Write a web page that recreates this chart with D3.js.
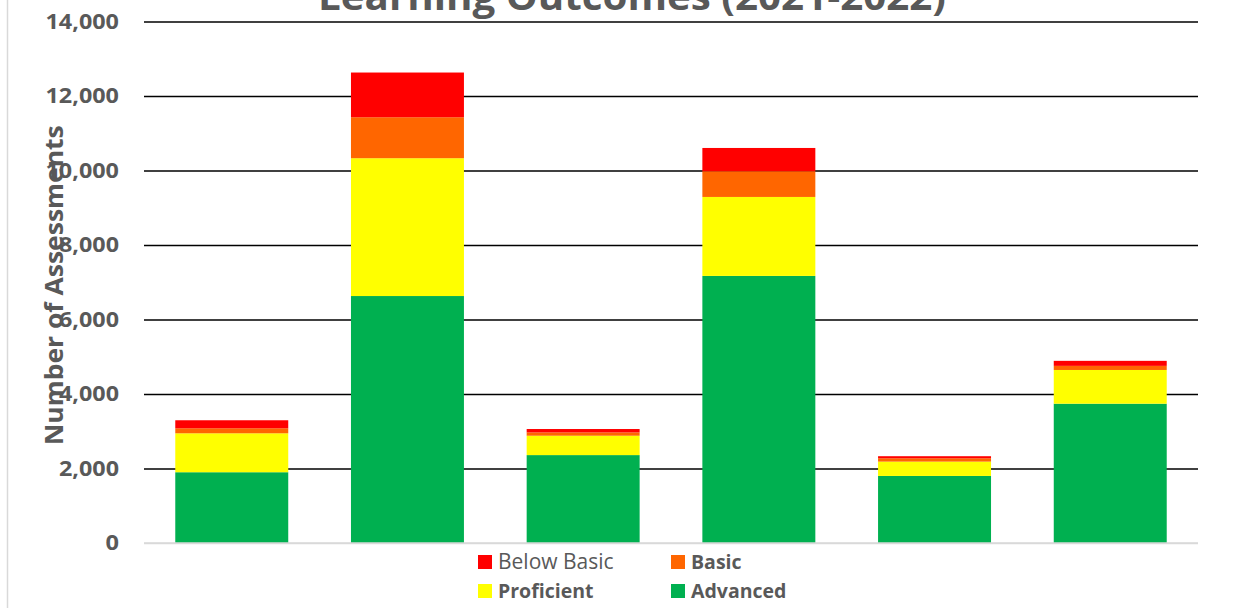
<!DOCTYPE html>
<html>
<head>
<meta charset="utf-8">
<script src="https://cdn.jsdelivr.net/npm/d3@7"></script>
<style>
  html, body { margin: 0; padding: 0; background: #fff; }
  svg { display: block; }
</style>
</head>
<body>
<svg id="chart" width="1260" height="608"></svg>
<script>
// Six groups of assessments, stacked by outcome level
const categories = ["A", "B", "C", "D", "E", "F"];
const advanced   = [1900, 6630, 2360, 7170, 1800, 3740];
const proficient = [1045, 3700,  520, 2120,  385,  905];
const basic      = [ 135, 1100,   90,  690,   90,  110];
const belowBasic = [ 215, 1200,   90,  625,   55,  135];
const seriesNames = ["Advanced", "Proficient", "Basic", "Below Basic"];
const seriesColors = ["#00B050", "#FFFF00", "#FF6600", "#FF0000"];
const yTicks = [0, 2000, 4000, 6000, 8000, 10000, 12000, 14000];

const rows = categories.map((c, i) => ({
  cat: c,
  "Advanced": advanced[i],
  "Proficient": proficient[i],
  "Basic": basic[i],
  "Below Basic": belowBasic[i]
}));

const svg = d3.select("#chart");
const plot = { left: 144, right: 1198, top: 21.5, bottom: 543 };
const textGray = "#595959";
const font = "'Open Sans', 'Liberation Sans', sans-serif";

// chart frame edge
svg.append("line")
  .attr("x1", 7.5).attr("x2", 7.5).attr("y1", 0).attr("y2", 608)
  .attr("stroke", "#d9d9d9").attr("stroke-width", 1.5);

const x = d3.scaleBand()
  .domain(categories)
  .range([plot.left, plot.right])
  .paddingInner(0.357)
  .paddingOuter(0.178);

const y = d3.scaleLinear()
  .domain([0, 14000])
  .range([plot.bottom, plot.top]);

// horizontal gridlines with tick labels
const fmt = d3.format(",");
const yAxis = d3.axisLeft(y)
  .tickValues(yTicks)
  .tickSize(-(plot.right - plot.left))
  .tickPadding(25)
  .tickFormat(fmt);

const gy = svg.append("g")
  .attr("transform", `translate(${plot.left},0)`)
  .call(yAxis);
gy.select(".domain").remove();
gy.selectAll(".tick line")
  .attr("stroke", d => d === 0 ? "#d9d9d9" : "#000")
  .attr("stroke-width", 1.6);
gy.selectAll(".tick text")
  .attr("fill", textGray)
  .style("font-family", font)
  .style("font-weight", "700")
  .style("font-size", "21.5px")
  .attr("textLength", d => {
    const s = fmt(d);
    const digits = s.replace(/,/g, "").length;
    const commas = s.length - digits;
    return digits * 13.5 + commas * 6;
  })
  .attr("lengthAdjust", "spacingAndGlyphs");

// stacked bars
const stack = d3.stack().keys(seriesNames);
const layers = stack(rows);

svg.append("g").selectAll("g")
  .data(layers)
  .join("g")
  .attr("fill", (d, i) => seriesColors[i])
  .selectAll("rect")
  .data(d => d)
  .join("rect")
  .attr("x", d => x(d.data.cat))
  .attr("width", x.bandwidth())
  .attr("y", d => y(d[1]))
  .attr("height", d => y(d[0]) - y(d[1]));

// baseline drawn over bars
svg.append("line")
  .attr("x1", plot.left).attr("x2", plot.right)
  .attr("y1", y(0)).attr("y2", y(0))
  .attr("stroke", "#d9d9d9").attr("stroke-width", 1.6);

// title, partly above the top edge
svg.append("text")
  .attr("x", 632).attr("y", 10)
  .attr("text-anchor", "middle")
  .attr("fill", textGray)
  .style("font-family", font)
  .style("font-weight", "700")
  .style("font-size", "37px")
  .attr("textLength", 628)
  .attr("lengthAdjust", "spacingAndGlyphs")
  .text("Learning Outcomes (2021-2022)");

// y axis title
svg.append("text")
  .attr("transform", `translate(63,${(plot.top + plot.bottom) / 2 + 3}) rotate(-90)`)
  .attr("text-anchor", "middle")
  .attr("fill", textGray)
  .style("font-family", font)
  .style("font-weight", "700")
  .style("font-size", "25px")
  .attr("textLength", 320)
  .attr("lengthAdjust", "spacingAndGlyphs")
  .text("Number of Assessments");

// legend
const legendItems = [
  { name: "Below Basic", color: "#FF0000", bold: false, col: 0, row: 0 },
  { name: "Basic",       color: "#FF6600", bold: true,  col: 1, row: 0 },
  { name: "Proficient",  color: "#FFFF00", bold: true,  col: 0, row: 1 },
  { name: "Advanced",    color: "#00B050", bold: true,  col: 1, row: 1 }
];
const lg = svg.append("g");
const li = lg.selectAll("g").data(legendItems).join("g")
  .attr("transform", d => `translate(${478 + d.col * 193},${555 + d.row * 29})`);
li.append("rect")
  .attr("width", 14).attr("height", 14)
  .attr("fill", d => d.color);
li.append("text")
  .attr("x", 20).attr("y", 7)
  .attr("dy", "0.35em")
  .attr("fill", textGray)
  .style("font-family", font)
  .style("font-weight", d => d.bold ? "700" : "400")
  .style("font-size", d => d.bold ? "19.5px" : "21px")
  .text(d => d.name);
</script>
</body>
</html>
